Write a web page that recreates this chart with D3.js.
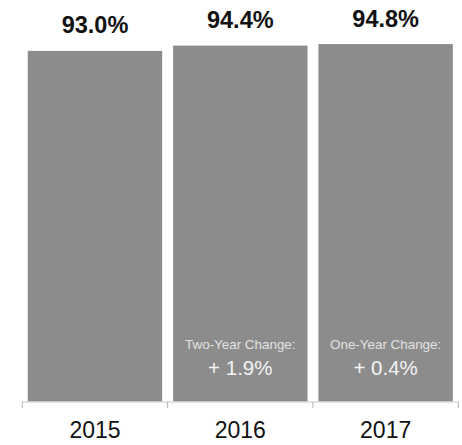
<!DOCTYPE html>
<html>
<head>
<meta charset="utf-8">
<script src="https://cdn.jsdelivr.net/npm/d3@7"></script>
<style>
  html, body { margin: 0; padding: 0; background: #fff; }
  svg { display: block; font-family: "Liberation Sans", Arial, Helvetica, sans-serif; }
</style>
</head>
<body>
<svg id="chart" width="462" height="445"></svg>
<script>
// Graduation rate by year
const years = ["2015", "2016", "2017"];
const rates = [93.0, 94.4, 94.8];
const changeTitles = ["", "Two-Year Change:", "One-Year Change:"];
const changeValues = ["", "+ 1.9%", "+ 0.4%"];

const svg = d3.select("#chart");
const axisY = 402;

const x = d3.scaleBand()
  .domain(years)
  .range([22.3, 458.3])
  .paddingInner(0.075)
  .paddingOuter(0.0375);

const y = d3.scaleLinear()
  .domain([0, 100])
  .range([401.5, 24.5]);

// bars
svg.append("g").selectAll("rect")
  .data(years)
  .join("rect")
  .attr("x", d => x(d))
  .attr("width", x.bandwidth())
  .attr("y", (d, i) => y(rates[i]))
  .attr("height", (d, i) => y(0) - y(rates[i]))
  .attr("fill", "#8c8c8c");

// value labels above bars
svg.append("g").selectAll("text")
  .data(years)
  .join("text")
  .attr("x", d => x(d) + x.bandwidth() / 2)
  .attr("y", (d, i) => y(rates[i]) - 17.5)
  .attr("text-anchor", "middle")
  .attr("font-size", 23.5)
  .attr("font-weight", "bold")
  .attr("fill", "#111")
  .text((d, i) => rates[i].toFixed(1) + "%");

// change annotations inside bars
const ann = svg.append("g").selectAll("g")
  .data(years.filter((d, i) => changeTitles[i]))
  .join("g");
ann.append("text")
  .attr("x", d => x(d) + x.bandwidth() / 2)
  .attr("y", 348.5)
  .attr("text-anchor", "middle")
  .attr("font-size", 13.4)
  .attr("fill", "#e2e2e2")
  .text(d => changeTitles[years.indexOf(d)]);
ann.append("text")
  .attr("x", d => x(d) + x.bandwidth() / 2)
  .attr("y", 374.5)
  .attr("text-anchor", "middle")
  .attr("font-size", 20.5)
  .attr("fill", "#f4f4f4")
  .text(d => changeValues[years.indexOf(d)]);

// x axis: category labels centred, ticks on band boundaries
const axis = svg.append("g")
  .attr("transform", `translate(0,${axisY})`)
  .call(d3.axisBottom(x).tickSize(0).tickPadding(36));
axis.select(".domain").attr("stroke", "#c8c8c8").attr("d", `M${x.range()[0]},0H${x.range()[1]}`);
axis.selectAll(".tick text")
  .attr("font-size", 23)
  .attr("font-family", "'Liberation Sans', Arial, sans-serif")
  .attr("fill", "#111")
  .attr("dy", 0);

const boundaries = [x.range()[0]].concat(years.map(d => x(d) + x.bandwidth() + x.step() * x.paddingInner() / 2));
boundaries[boundaries.length - 1] = x.range()[1];
axis.selectAll("line.boundary")
  .data(boundaries)
  .join("line")
  .attr("class", "boundary")
  .attr("x1", d => d).attr("x2", d => d)
  .attr("y1", 0).attr("y2", 6)
  .attr("stroke", "#b0b0b0");
</script>
</body>
</html>
